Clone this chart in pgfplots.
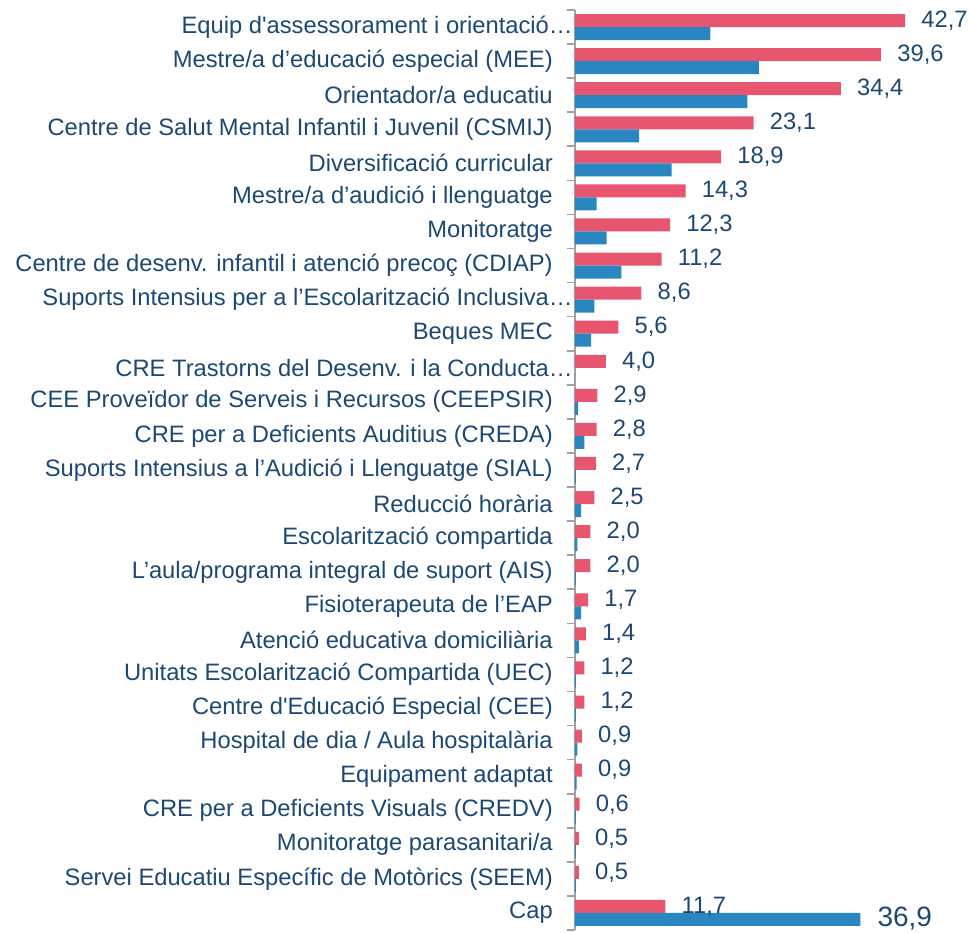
\documentclass[border=0pt]{standalone}
\usepackage{pgfplots}
\pgfplotsset{compat=1.18}
\usepackage{fontspec}
\setmainfont{Liberation Sans}
\definecolor{cred}{RGB}{232,85,110}
\definecolor{cblue}{RGB}{41,134,193}
\definecolor{ctext}{RGB}{28,72,115}
\definecolor{caxis}{RGB}{160,160,165}
\newcommand\lblfont{\fontsize{17.8}{20}\selectfont}
\begin{document}
\begin{tikzpicture}
\begin{axis}[
  at={(0,0)}, anchor=south west,
  scale only axis, width=288.75pt, height=690pt,
  xmin=0, xmax=49.8, ymin=-0.5, ymax=26.5,
  axis x line=none, axis y line*=left,
  y axis line style={caxis, line width=1.5pt},
  ytick={0,...,26},
  yticklabels={{Cap},
    {Servei Educatiu Específic de Motòrics (SEEM)},
    {Monitoratge parasanitari/a},
    {CRE per a Deficients Visuals (CREDV)},
    {Equipament adaptat},
    {Hospital de dia / Aula hospitalària},
    {Centre d\textquotesingle Educació Especial (CEE)},
    {Unitats Escolarització Compartida (UEC)},
    {Atenció educativa domiciliària},
    {Fisioterapeuta de l’EAP},
    {L’aula/programa integral de suport (AIS)},
    {Escolarització compartida},
    {Reducció horària},
    {Suports Intensius a l’Audició i Llenguatge (SIAL)},
    {CRE per a Deficients Auditius (CREDA)},
    {CEE Proveïdor de Serveis i Recursos (CEEPSIR)},
    {CRE Trastorns del Desenv. i la Conducta…\hspace*{-15pt}},
    {Beques MEC},
    {Suports Intensius per a l’Escolarització Inclusiva…\hspace*{-15pt}},
    {Centre de desenv. infantil i atenció precoç (CDIAP)},
    {Monitoratge},
    {Mestre/a d’audició i llenguatge},
    {Diversificació curricular},
    {Centre de Salut Mental Infantil i Juvenil (CSMIJ)},
    {Orientador/a educatiu},
    {Mestre/a d’educació especial (MEE)},
    {Equip d\textquotesingle assessorament i orientació…\hspace*{-15pt}}},
  major tick length=0pt,
  minor ytick={-0.5,0.5,...,26.5},
  minor tick length=6pt,
  tick align=outside,
  minor tick style={caxis, line width=1.2pt},
  yticklabel style={font=\lblfont, text=ctext, anchor=east, inner sep=0pt, xshift=-16.5pt},
  xbar, bar width=9.75pt,
  nodes near coords,
  point meta=explicit symbolic,
  nodes near coords style={font=\lblfont, text=ctext, anchor=west, inner sep=0pt, xshift=12pt},
  clip=false,
]
\addplot[fill=cred, draw=none, bar shift=4.875pt] table[x=x, y=y, meta=lab] {
x y lab
42.7 26 42,7
39.6 25 39,6
34.4 24 34,4
23.1 23 23,1
18.9 22 18,9
14.3 21 14,3
12.3 20 12,3
11.2 19 11,2
8.6 18 8,6
5.6 17 5,6
4.0 16 4,0
2.9 15 2,9
2.8 14 2,8
2.7 13 2,7
2.5 12 2,5
2.0 11 2,0
2.0 10 2,0
1.7 9 1,7
1.4 8 1,4
1.2 7 1,2
1.2 6 1,2
0.9 5 0,9
0.9 4 0,9
0.6 3 0,6
0.5 2 0,5
0.5 1 0,5
11.7 0 11,7
};
\addplot[fill=cblue, draw=none, bar shift=-4.875pt,
  nodes near coords style={font=\fontsize{21}{24}\selectfont, xshift=0.75pt, yshift=0.5pt}] table[x=x, y=y, meta=lab] {
x y lab
17.5 26 {}
23.8 25 {}
22.3 24 {}
8.3 23 {}
12.5 22 {}
2.8 21 {}
4.1 20 {}
6.0 19 {}
2.5 18 {}
2.1 17 {}
0.0 16 {}
0.4 15 {}
1.2 14 {}
0.1 13 {}
0.8 12 {}
0.3 11 {}
0.1 10 {}
0.8 9 {}
0.5 8 {}
0.1 7 {}
0.1 6 {}
0.3 5 {}
0.2 4 {}
0.1 3 {}
0.1 2 {}
0.1 1 {}
36.9 0 36,9
};
\end{axis}
\pgfresetboundingbox
\path (-431.25pt,-1.5pt) rectangle (296.25pt,697.5pt);
\end{tikzpicture}
\end{document}
